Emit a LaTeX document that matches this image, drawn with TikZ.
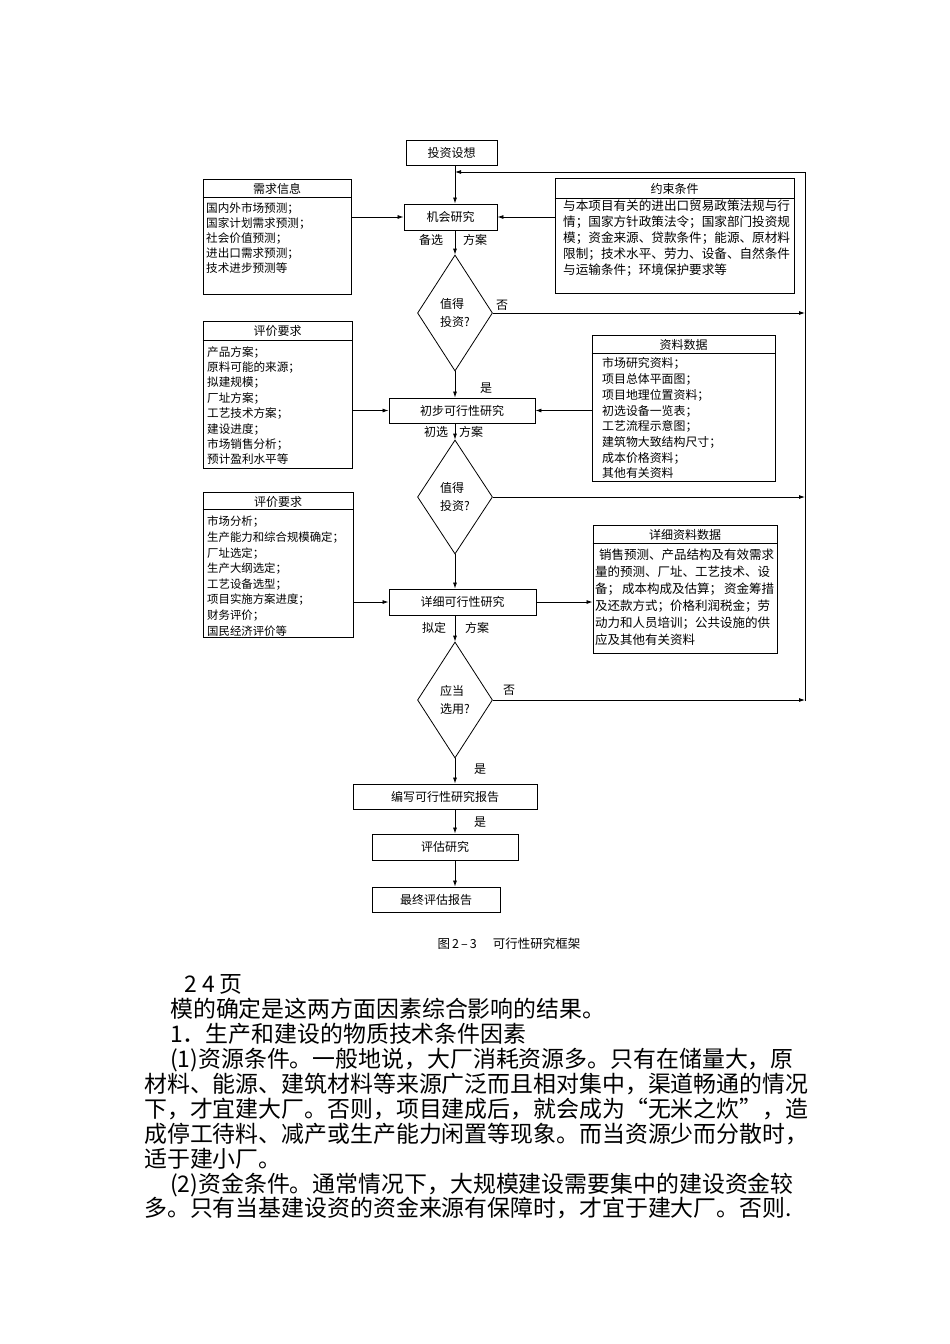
\documentclass[tikz,border=0pt]{standalone}
\usepackage{fontspec}
\setmainfont{Noto Sans CJK SC}
\usetikzlibrary{shapes.geometric,arrows.meta,positioning}

\begin{document}
\begin{tikzpicture}[x=1pt,y=-1pt]

\tikzset{flowbox/.style={draw, line width=0.9pt, inner sep=0pt, minimum height=25pt, font=\fontsize{12}{14}\selectfont},
infobox/.style={draw, line width=0.9pt, inner sep=0pt},
boxhead/.style={inner sep=0pt, font=\fontsize{12}{14}\selectfont},
boxbody/.style={anchor=north west, inner sep=0pt, align=left},
decide/.style={draw, diamond, line width=0.8pt, inner sep=0pt, minimum width=75pt, minimum height=116pt, align=left, font=\fontsize{12}{18}\selectfont},
link/.style={line width=0.8pt, -{Latex[length=6pt,width=4pt]}},
tag/.style={inner sep=0pt, font=\fontsize{12}{14}\selectfont},
bodyline/.style={anchor=base west, inner sep=0pt, font=\fontsize{22.9}{25}\selectfont}}

\fill[white] (0,0) rectangle (950,1344);
\useasboundingbox (0,0) rectangle (950,1344);

\coordinate (spine) at (455,0);
\coordinate (fbtop) at (805,172);
\coordinate (fbbot) at (805,701);

% main flow
\node[flowbox, minimum width=91pt] (idea) at (451.5,152.5) {投资设想};
\node[flowbox, minimum width=93pt, minimum height=26pt] (chance) at (450.5,217) {机会研究};
\node[decide] (d1) at (455,313) {值得\\投资?};
\node[flowbox, minimum width=146pt] (prelim) at (462,410.5) {初步可行性研究};
\node[decide, minimum height=114pt] (d2) at (455,497) {值得\\投资?};
\node[flowbox, minimum width=147pt, minimum height=26pt] (detail) at (462.5,602) {详细可行性研究};
\node[decide] (d3) at (455,700) {应当\\选用?};
\node[flowbox, minimum width=184pt] (report) at (445,796.5) {编写可行性研究报告};
\node[flowbox, minimum width=146pt, minimum height=26pt] (assess) at (445,847) {评估研究};
\node[flowbox, minimum width=128pt] (final) at (436,899.5) {最终评估报告};

% side boxes
\node[infobox, minimum width=148pt, minimum height=115pt] (demand) at (277,236.5) {};
\node[boxhead] (demand-head) at (277,189) {需求信息};
\draw[line width=0.9pt] (demand.west |- 0,197) -- (demand.east |- 0,197);
\node[boxbody, font=\fontsize{11.6}{15.2}\selectfont] (demand-list) at (206,202) {国内外市场预测；\\国家计划需求预测；\\社会价值预测；\\进出口需求预测；\\技术进步预测等};

\node[infobox, minimum width=239pt, minimum height=115pt] (limits) at (674.5,235.5) {};
\node[boxhead] (limits-head) at (674.5,189) {约束条件};
\draw[line width=0.9pt] (limits.west |- 0,198) -- (limits.east |- 0,198);
\node[boxbody, font=\fontsize{12.6}{16}\selectfont] (limits-list) at (563,200) {与本项目有关的进出口贸易政策法规与行\\情；国家方针政策法令；国家部门投资规\\模；资金来源、贷款条件；能源、原材料\\限制；技术水平、劳力、设备、自然条件\\与运输条件；环境保护要求等};

\node[infobox, minimum width=149pt, minimum height=147pt] (eval1) at (277.5,394.5) {};
\node[boxhead] (eval1-head) at (277.5,331) {评价要求};
\draw[line width=0.9pt] (eval1.west |- 0,340) -- (eval1.east |- 0,340);
\node[boxbody, font=\fontsize{11.6}{15.4}\selectfont] (eval1-list) at (207,346) {产品方案；\\原料可能的来源；\\拟建规模；\\厂址方案；\\工艺技术方案；\\建设进度；\\市场销售分析；\\预计盈利水平等};

\node[infobox, minimum width=183pt, minimum height=146pt] (data1) at (683.5,408) {};
\node[boxhead] (data1-head) at (683.5,345) {资料数据};
\draw[line width=0.9pt] (data1.west |- 0,353) -- (data1.east |- 0,353);
\node[boxbody, font=\fontsize{11.9}{15.7}\selectfont] (data1-list) at (602,357.7) {市场研究资料；\\项目总体平面图；\\项目地理位置资料；\\初选设备一览表；\\工艺流程示意图；\\建筑物大致结构尺寸；\\成本价格资料；\\其他有关资料};

\node[infobox, minimum width=150pt, minimum height=145pt] (eval2) at (278,564.5) {};
\node[boxhead] (eval2-head) at (278,502) {评价要求};
\draw[line width=0.9pt] (eval2.west |- 0,509) -- (eval2.east |- 0,509);
\node[boxbody, font=\fontsize{11.4}{15.6}\selectfont] (eval2-list) at (207,516) {市场分析；\\生产能力和综合规模确定；\\厂址选定；\\生产大纲选定；\\工艺设备选型；\\项目实施方案进度；\\财务评价；\\国民经济评价等};

\node[infobox, minimum width=184pt, minimum height=128pt] (data2) at (685,589) {};
\node[boxhead] (data2-head) at (685,535) {详细资料数据};
\draw[line width=0.9pt] (data2.west |- 0,543) -- (data2.east |- 0,543);
\node[boxbody, font=\fontsize{12.5}{17}\selectfont] (data2-list) at (595,549.2) {\hspace{4pt}销售预测、产品结构及有效需求\\量的预测、厂址、工艺技术、设\\备；\hspace{2pt}成本构成及估算；\hspace{2pt}资金筹措\\及还款方式；价格利润税金；劳\\动力和人员培训；公共设施的供\\应及其他有关资料};

% connectors
\draw[link] (idea.south -| spine) -- (chance.north -| spine);
\draw[link] (chance.south -| spine) -- (d1.north);
\draw[link] (d1.south) -- (prelim.north -| spine);
\draw[link] (prelim.south -| spine) -- (d2.north);
\draw[link] (d2.south) -- (detail.north -| spine);
\draw[link] (detail.south -| spine) -- (d3.north);
\draw[link] (d3.south) -- (report.north -| spine);
\draw[link] (report.south -| spine) -- (assess.north -| spine);
\draw[link] (assess.south -| spine) -- (final.north -| spine);

\draw[link] (demand.east |- chance) -- (chance.west);
\draw[link] (limits.west |- chance) -- (chance.east);
\draw[link] (eval1.east |- prelim) -- (prelim.west);
\draw[link] (data1.west |- prelim) -- (prelim.east);
\draw[link] (eval2.east |- detail) -- (detail.west);
\draw[link] (detail.east) -- (data2.west |- detail);

% loop back on the right
\draw[line width=0.8pt] (fbbot) -- (fbtop);
\draw[link] (fbtop) -- (fbtop -| spine);
\draw[link] (d1.east) -- (d1.east -| fbtop);
\draw[link] (d2.east) -- (d2.east -| fbtop);
\draw[link] (d3.east) -- (d3.east -| fbtop);

% labels
\node[tag] (l-bx) at (431,240) {备选};
\node[tag] (l-fa1) at (475,240) {方案};
\node[tag] (l-no1) at (502,305) {否};
\node[tag] (l-yes1) at (486,388) {是};
\node[tag] (l-cx) at (436,432) {初选};
\node[tag] (l-fa2) at (471,432) {方案};
\node[tag] (l-nd) at (434,628) {拟定};
\node[tag] (l-fa3) at (477,628) {方案};
\node[tag] (l-no3) at (509,690) {否};
\node[tag] (l-yes3) at (480,769) {是};
\node[tag] (l-yes4) at (480,822) {是};

\node[tag, font=\fontsize{12.5}{14}\selectfont] (caption) at (509,944) {图\,2\,–\,3\hspace{16pt}可行性研究框架};

% page text
\node[bodyline] (line1) at (184,992) {2\hspace{6pt}4\hspace{4pt}页};
\node[bodyline] (line2) at (170,1017) {模的确定是这两方面因素综合影响的结果。};
\node[bodyline] (line3) at (170,1042) {1．生产和建设的物质技术条件因素};
\node[bodyline] (line4) at (170,1067) {(1)资源条件。一般地说，大厂消耗资源多。只有在储量大，原};
\node[bodyline] (line5) at (144,1092) {材料、能源、建筑材料等来源广泛而且相对集中，渠道畅通的情况};
\node[bodyline] (line6) at (144,1117) {下，才宜建大厂。否则，项目建成后，就会成为“无米之炊”，造};
\node[bodyline] (line7) at (144,1142) {成停工待料、减产或生产能力闲置等现象。而当资源少而分散时，};
\node[bodyline] (line8) at (144,1167) {适于建小厂。};
\node[bodyline] (line9) at (170,1192) {(2)资金条件。通常情况下，大规模建设需要集中的建设资金较};
\node[bodyline] (line10) at (144,1216) {多。只有当基建设资的资金来源有保障时，才宜于建大厂。否则.};

\end{tikzpicture}
\end{document}
